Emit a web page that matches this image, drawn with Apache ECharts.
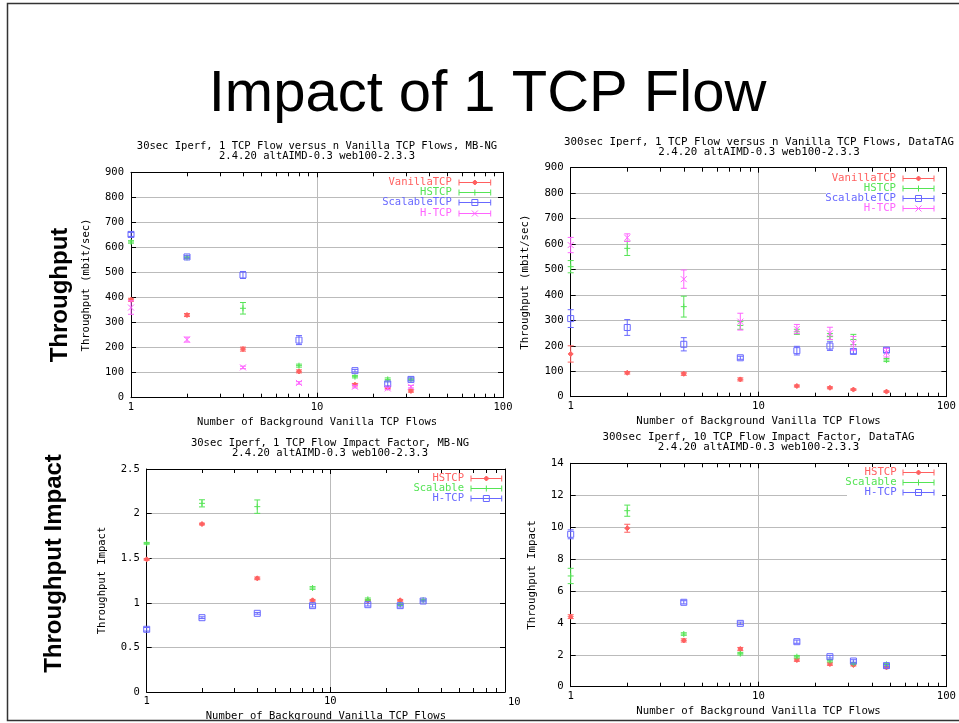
<!DOCTYPE html>
<html><head><meta charset="utf-8">
<script src="https://cdn.jsdelivr.net/npm/echarts@6/dist/echarts.min.js"></script>
<style>html,body{margin:0;padding:0;background:#fff}#c{width:959px;height:723px}</style>
</head><body><div id="c"></div>
<script>
// ---------------- data ----------------
const xFlowsMBNG = [1, 2, 4, 8, 16, 24, 32];
const xFlowsDataTAG = [1, 2, 4, 8, 16, 24, 32, 48];
const xMinorTicks = [2, 3, 4, 5, 6, 7, 8, 9, 20, 30, 40, 50, 60, 70, 80, 90];

// Panel 1: 30sec Iperf throughput, MB-NG (mbit/sec) and error half-widths
const tpMBNG_Vanilla = [391, 330, 194, 105, 52, 40, 27];
const tpMBNG_VanillaErr = [6, 6, 8, 6, 5, 4, 5];
const tpMBNG_HSTCP = [622, 560, 357, 128, 84, 73, 73];
const tpMBNG_HSTCPErr = [5, 5, 23, 6, 5, 6, 5];
const tpMBNG_Scalable = [652, 562, 490, 230, 108, 55, 73];
const tpMBNG_ScalableErr = [8, 5, 14, 18, 5, 8, 6];
const tpMBNG_HTCP = [360, 232, 121, 59, 44, 37, 44];
const tpMBNG_HTCPErr = [27, 10, 5, 5, 5, 5, 5];

// Panel 2: 300sec Iperf throughput, DataTAG
const tpDT_Vanilla = [168, 94, 90, 68, 42, 35, 28, 20];
const tpDT_VanillaErr = [32, 5, 6, 6, 4, 4, 3, 3];
const tpDT_HSTCP = [511, 583, 354, 280, 255, 236, 225, 144];
const tpDT_HSTCPErr = [24, 28, 41, 15, 10, 12, 20, 6];
const tpDT_Scalable = [307, 272, 206, 153, 181, 199, 178, 183];
const tpDT_ScalableErr = [35, 31, 26, 6, 17, 17, 9, 9];
const tpDT_HTCP = [596, 625, 462, 295, 266, 249, 210, 173];
const tpDT_HTCPErr = [30, 15, 36, 33, 18, 24, 27, 17];

// Panel 3: 30sec Iperf impact factor, MB-NG
const imMBNG_HSTCP = [1.487, 1.883, 1.274, 1.028, 1.024, 1.028, null];
const imMBNG_HSTCPErr = [0.01, 0.01, 0.015, 0.01, 0.01, 0.01, 0.01];
const imMBNG_Scalable = [1.667, 2.115, 2.078, 1.166, 1.039, 0.98, 1.03];
const imMBNG_ScalableErr = [0.01, 0.04, 0.075, 0.015, 0.015, 0.01, 0.01];
const imMBNG_HTCP = [0.703, 0.833, 0.882, 0.968, 0.979, 0.968, 1.02];
const imMBNG_HTCPErr = [0.02, 0.01, 0.01, 0.015, 0.015, 0.015, 0.01];

// Panel 4: 300sec Iperf, 10 TCP flow impact factor, DataTAG
const imDT_HSTCP = [4.39, 9.93, 2.90, 2.36, 1.67, 1.42, 1.36, 1.21];
const imDT_HSTCPErr = [0.12, 0.25, 0.1, 0.1, 0.08, 0.08, 0.06, 0.06];
const imDT_Scalable = [6.94, 11.03, 3.30, 2.07, 1.88, 1.63, 1.46, 1.40];
const imDT_ScalableErr = [0.48, 0.35, 0.08, 0.08, 0.08, 0.08, 0.06, 0.06];
const imDT_HTCP = [9.55, null, 5.29, 3.97, 2.82, 1.88, 1.61, 1.32];
const imDT_HTCPErr = [0.28, 0, 0.1, 0.08, 0.1, 0.08, 0.08, 0.08];

// ---------------- styling ----------------
const RED = '#ff6060', GREEN = '#55e455', BLUE = '#6868ff', MAGENTA = '#ff64ff';
const MONO = 'DejaVu Sans Mono';
const GRIDC = '#bbbbbb';

function markerEls(shape, cx, cy, color, z) {
  const st = {stroke: color, lineWidth: 1, fill: null};
  const zz = z || 0;
  if (shape === 'diamond') return [{type: 'polygon', z: zz, shape: {points: [[cx, cy - 2.5], [cx + 2.5, cy], [cx, cy + 2.5], [cx - 2.5, cy]]}, style: {stroke: color, lineWidth: 1, fill: color}}];
  if (shape === 'plus') return [
    {type: 'line', z: zz, shape: {x1: cx - 3, y1: cy, x2: cx + 3, y2: cy}, style: st},
    {type: 'line', z: zz, shape: {x1: cx, y1: cy - 3, x2: cx, y2: cy + 3}, style: st}];
  if (shape === 'square') return [{type: 'rect', z: zz, shape: {x: cx - 3, y: cy - 3, width: 6, height: 6}, style: st}];
  return [
    {type: 'line', z: zz, shape: {x1: cx - 3, y1: cy - 3, x2: cx + 3, y2: cy + 3}, style: st},
    {type: 'line', z: zz, shape: {x1: cx - 3, y1: cy + 3, x2: cx + 3, y2: cy - 3}, style: st}];
}

function pts(xs, ys, es) {
  return xs.map((x, i) => ys[i] == null ? null : [x, ys[i], es[i]]).filter(Boolean);
}

function errSeries(gi, name, xs, ys, es, color, shape) {
  return {
    type: 'custom', name, xAxisIndex: 2 * gi, yAxisIndex: 2 * gi, clip: false, z: 3,
    data: pts(xs, ys, es), encode: {x: 0, y: 1},
    renderItem: (params, api) => {
      const x = api.value(0), y = api.value(1), e = api.value(2);
      const p = api.coord([x, y]);
      const pt = api.coord([x, y + e]);
      const pb = api.coord([x, y - e]);
      const st = {stroke: color, lineWidth: 1};
      const ch = [];
      if (pb[1] - pt[1] > 1.5) {
        ch.push({type: 'line', shape: {x1: p[0], y1: pt[1], x2: p[0], y2: pb[1]}, style: st});
        ch.push({type: 'line', shape: {x1: p[0] - 3, y1: pt[1], x2: p[0] + 3, y2: pt[1]}, style: st});
        ch.push({type: 'line', shape: {x1: p[0] - 3, y1: pb[1], x2: p[0] + 3, y2: pb[1]}, style: st});
      }
      return {type: 'group', children: ch.concat(markerEls(shape, p[0], p[1], color))};
    }
  };
}

function minorTickSeries(gi, max) {
  return {
    type: 'custom', xAxisIndex: 2 * gi, yAxisIndex: 2 * gi, clip: false, silent: true, z: 2,
    data: xMinorTicks.filter(v => v < max).map(v => [v, 0]), encode: {x: 0, y: 1},
    renderItem: (params, api) => {
      const cs = params.coordSys;
      const x = Math.round(api.coord([api.value(0), 0])[0]) + 0.5;
      const st = {stroke: '#000', lineWidth: 1};
      return {type: 'group', children: [
        {type: 'line', shape: {x1: x, y1: cs.y + cs.height, x2: x, y2: cs.y + cs.height - 4}, style: st},
        {type: 'line', shape: {x1: x, y1: cs.y, x2: x, y2: cs.y + 4}, style: st}]};
    }
  };
}

const panels = [
  {grid: {left: 131, top: 172.3, width: 372, height: 225.4}, xmax: 100, ymax: 900, yint: 100, yname: 'Throughput (mbit/sec)', ygap: 39, fs: 10.5},
  {grid: {left: 570.7, top: 167.7, width: 377, height: 229}, xmax: 100, ymax: 900, yint: 100, yname: 'Throughput (mbit/sec)', ygap: 40, fs: 10.7},
  {grid: {left: 146.7, top: 469, width: 358.3, height: 223}, xmax: 89.3, ymax: 2.5, yint: 0.5, yname: 'Throughput Impact', ygap: 39, fs: 10.5},
  {grid: {left: 570.7, top: 463.3, width: 377.3, height: 223.4}, xmax: 100, ymax: 14, yint: 2, yname: 'Throughput Impact', ygap: 33, fs: 10.7}
];

const xAxes = [], yAxes = [];
panels.forEach((p, gi) => {
  const ts = {fontFamily: MONO, fontSize: p.fs, color: '#000'};
  xAxes.push({
    type: 'log', logBase: 10, min: 1, max: p.xmax, gridIndex: gi, position: 'bottom',
    axisLine: {show: true, onZero: false, lineStyle: {color: '#000', width: 1}},
    axisTick: {show: true, inside: true, length: 5, lineStyle: {color: '#000'}},
    axisLabel: Object.assign({margin: 4, formatter: v => {
      const l = Math.log10(v); return Math.abs(l - Math.round(l)) < 1e-6 ? String(Math.round(v)) : '';
    }}, ts),
    splitLine: {show: true, lineStyle: {color: GRIDC, width: 1}},
    name: 'Number of Background Vanilla TCP Flows', nameLocation: 'middle', nameGap: 19,
    nameTextStyle: ts
  });
  xAxes.push({
    type: 'log', logBase: 10, min: 1, max: p.xmax, gridIndex: gi, position: 'top',
    axisLine: {show: true, onZero: false, lineStyle: {color: '#000', width: 1}},
    axisTick: {show: true, inside: true, length: 5, lineStyle: {color: '#000'}},
    axisLabel: {show: false}, splitLine: {show: false}
  });
  yAxes.push({
    type: 'value', min: 0, max: p.ymax, interval: p.yint, gridIndex: gi, position: 'left',
    axisLine: {show: true, onZero: false, lineStyle: {color: '#000', width: 1}},
    axisTick: {show: true, inside: true, length: 5, lineStyle: {color: '#000'}},
    axisLabel: Object.assign({margin: 7}, ts),
    splitLine: {show: true, lineStyle: {color: GRIDC, width: 1}},
    name: p.yname, nameLocation: 'middle', nameRotate: 90, nameGap: p.ygap, nameTextStyle: ts
  });
  yAxes.push({
    type: 'value', min: 0, max: p.ymax, interval: p.yint, gridIndex: gi, position: 'right',
    axisLine: {show: true, onZero: false, lineStyle: {color: '#000', width: 1}},
    axisTick: {show: true, inside: true, length: 5, lineStyle: {color: '#000'}},
    axisLabel: {show: false}, splitLine: {show: false}
  });
});

const series = [
  minorTickSeries(0, 100), minorTickSeries(1, 100), minorTickSeries(2, 89.3), minorTickSeries(3, 100),
  errSeries(0, 'VanillaTCP', xFlowsMBNG, tpMBNG_Vanilla, tpMBNG_VanillaErr, RED, 'diamond'),
  errSeries(0, 'HSTCP', xFlowsMBNG, tpMBNG_HSTCP, tpMBNG_HSTCPErr, GREEN, 'plus'),
  errSeries(0, 'ScalableTCP', xFlowsMBNG, tpMBNG_Scalable, tpMBNG_ScalableErr, BLUE, 'square'),
  errSeries(0, 'H-TCP', xFlowsMBNG, tpMBNG_HTCP, tpMBNG_HTCPErr, MAGENTA, 'cross'),
  errSeries(1, 'VanillaTCP', xFlowsDataTAG, tpDT_Vanilla, tpDT_VanillaErr, RED, 'diamond'),
  errSeries(1, 'HSTCP', xFlowsDataTAG, tpDT_HSTCP, tpDT_HSTCPErr, GREEN, 'plus'),
  errSeries(1, 'ScalableTCP', xFlowsDataTAG, tpDT_Scalable, tpDT_ScalableErr, BLUE, 'square'),
  errSeries(1, 'H-TCP', xFlowsDataTAG, tpDT_HTCP, tpDT_HTCPErr, MAGENTA, 'cross'),
  errSeries(2, 'HSTCP', xFlowsMBNG, imMBNG_HSTCP, imMBNG_HSTCPErr, RED, 'diamond'),
  errSeries(2, 'Scalable', xFlowsMBNG, imMBNG_Scalable, imMBNG_ScalableErr, GREEN, 'plus'),
  errSeries(2, 'H-TCP', xFlowsMBNG, imMBNG_HTCP, imMBNG_HTCPErr, BLUE, 'square'),
  errSeries(3, 'HSTCP', xFlowsDataTAG, imDT_HSTCP, imDT_HSTCPErr, RED, 'diamond'),
  errSeries(3, 'Scalable', xFlowsDataTAG, imDT_Scalable, imDT_ScalableErr, GREEN, 'plus'),
  errSeries(3, 'H-TCP', xFlowsDataTAG, imDT_HTCP, imDT_HTCPErr, BLUE, 'square')
];

// ---------------- graphic (frame, titles, legends) ----------------
const G = [];
function txt(x, y, text, o) {
  G.push({type: 'text', x, y, z: 20, rotation: o.rotation || 0, style: {
    text, fill: o.color || '#000', fontFamily: o.family || MONO, fontSize: o.size || 10.5,
    fontWeight: o.weight || 'normal', align: o.align || 'center', verticalAlign: 'middle',
    textAlign: o.align || 'center', textVerticalAlign: 'middle'}});
}
G.push({type: 'polyline', z: 20, shape: {points: [[959, 3.5], [7.5, 3.5], [7.5, 720.5], [959, 720.5]]}, style: {stroke: '#333', lineWidth: 1.5, fill: null}});
txt(487.5, 95, 'Impact of 1 TCP Flow', {family: 'Liberation Sans', size: 58});
txt(60, 295, 'Throughput', {family: 'Liberation Sans', size: 24, weight: 'bold', rotation: Math.PI / 2});
txt(54.5, 563.5, 'Throughput Impact', {family: 'Liberation Sans', size: 24, weight: 'bold', rotation: Math.PI / 2});

const titles = [
  [317, 146, 156, '30sec Iperf, 1 TCP Flow versus n Vanilla TCP Flows, MB-NG', 10.5],
  [759, 141.7, 151.7, '300sec Iperf, 1 TCP Flow versus n Vanilla TCP Flows, DataTAG', 10.8],
  [330, 443.3, 453.3, '30sec Iperf, 1 TCP Flow Impact Factor, MB-NG', 10.5],
  [758.5, 437.3, 447.3, '300sec Iperf, 10 TCP Flow Impact Factor, DataTAG', 10.8]
];
titles.forEach(t => {
  txt(t[0], t[1], t[3], {size: t[4]});
  txt(t[0], t[2], '2.4.20 altAIMD-0.3 web100-2.3.3', {size: t[4]});
});

// white legend backgrounds where the gridline is interrupted
G.push({type: 'rect', z: 15, shape: {x: 826, y: 172, width: 116, height: 42}, style: {fill: '#fff'}});
G.push({type: 'rect', z: 15, shape: {x: 847, y: 467, width: 95, height: 31}, style: {fill: '#fff'}});

function legend(xr, xs1, xs2, y0, dy, items, fs) {
  items.forEach((it, i) => {
    const y = Math.round(y0 + dy * i) + 0.5;
    txt(xr, y, it[0], {align: 'right', color: it[1], size: fs});
    const st = {stroke: it[1], lineWidth: 1};
    const els = [
      {type: 'line', z: 20, shape: {x1: xs1, y1: y, x2: xs2, y2: y}, style: st},
      {type: 'line', z: 20, shape: {x1: xs1, y1: y - 3, x2: xs1, y2: y + 3}, style: st},
      {type: 'line', z: 20, shape: {x1: xs2, y1: y - 3, x2: xs2, y2: y + 3}, style: st}
    ].concat(markerEls(it[2], (xs1 + xs2) / 2, y, it[1], 21));
    els.forEach(e => G.push(e));
  });
}
legend(451.7, 459, 490.7, 181.7, 10.3, [['VanillaTCP', RED, 'diamond'], ['HSTCP', GREEN, 'plus'], ['ScalableTCP', BLUE, 'square'], ['H-TCP', MAGENTA, 'cross']], 10.5);
legend(896, 903, 934, 177.7, 10.2, [['VanillaTCP', RED, 'diamond'], ['HSTCP', GREEN, 'plus'], ['ScalableTCP', BLUE, 'square'], ['H-TCP', MAGENTA, 'cross']], 10.7);
legend(464, 471, 501.7, 478.3, 10, [['HSTCP', RED, 'diamond'], ['Scalable', GREEN, 'plus'], ['H-TCP', BLUE, 'square']], 10.5);
legend(896.7, 903, 934, 472.3, 10, [['HSTCP', RED, 'diamond'], ['Scalable', GREEN, 'plus'], ['H-TCP', BLUE, 'square']], 10.7);
// partially visible "100" tick label of the lower-left plot, cut by the neighbour plot
txt(508, 702.7, '10', {align: 'left', size: 10.5});

const chart = echarts.init(document.getElementById('c'), null, {renderer: 'canvas'});
chart.setOption({
  animation: false,
  backgroundColor: '#fff',
  grid: panels.map(p => Object.assign({show: false}, p.grid)),
  xAxis: xAxes,
  yAxis: yAxes,
  series,
  graphic: G
});
</script></body></html>
